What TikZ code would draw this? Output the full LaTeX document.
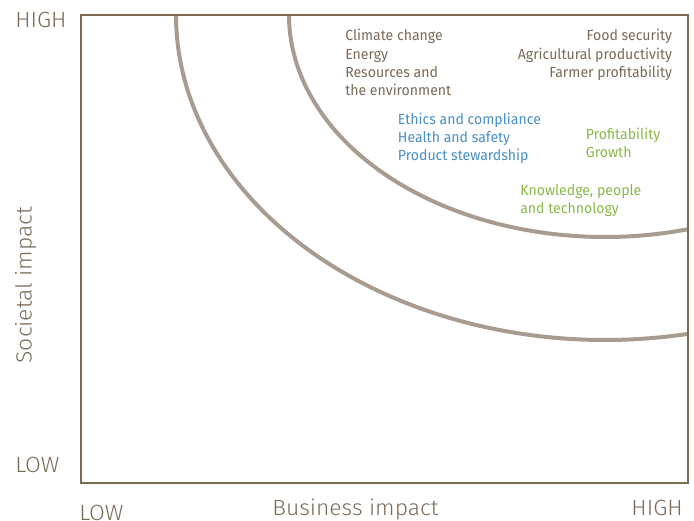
\documentclass[tikz,border=0pt]{standalone}
\usepackage{fontspec}
\setmainfont{Fira Sans}[FakeStretch=0.96]
\newfontfamily\axisfont{Fira Sans Light}[FakeStretch=1.04]
\definecolor{framec}{HTML}{7B6A58}
\definecolor{curvec}{HTML}{A89C90}
\definecolor{txtc}{HTML}{7B6A58}
\definecolor{bluec}{HTML}{4A90C4}
\definecolor{greenc}{HTML}{8AB84A}
\tikzset{
  px/.style={x=0.75pt,y=-0.75pt},
  axislbl/.style={inner sep=0pt,text=txtc,font=\axisfont\fontsize{16.5pt}{20pt}\selectfont},
  small/.style={inner sep=0pt,font=\fontsize{11pt}{13.7pt}\selectfont},
  curve/.style={draw=curvec,line width=3pt},
  frame/.style={draw=framec,line width=1.9pt}
}
\begin{document}
\begin{tikzpicture}[px]
\useasboundingbox (0,0) rectangle (694,521);
% curves
\draw[curve] (289,15) arc[start angle=180,end angle=74.96,x radius=316,y radius=222];
\draw[curve] (176,15) arc[start angle=180,end angle=78.98,x radius=429,y radius=325];
% frame
\draw[frame] (81,15) rectangle (688,483);
% axis labels
\node[axislbl,anchor=base west] (yhigh) at (15,27) {HIGH};
\node[axislbl,anchor=base west] (ylow) at (15,472) {LOW};
\node[axislbl,anchor=base west] (xlow) at (79,520) {LOW};
\node[axislbl,anchor=base] (xlab) at (355.5,515) {Business impact};
\node[axislbl,anchor=base east] (xhigh) at (683,515) {HIGH};
\node[axislbl,anchor=base,rotate=90] (ylab) at (31.7,285) {Societal impact};
% texts (base anchor = last line)
\node[small,text=txtc,anchor=base west,align=left] (env) at (345,95.6)
  {Climate change\\Energy\\Resources and\\the environment};
\node[small,text=txtc,anchor=base east,align=right] (food) at (672.3,77.3)
  {Food security\\Agricultural productivity\\Farmer profitability};
\node[small,text=bluec,anchor=base west,align=left] (ethics) at (397.7,160.9)
  {Ethics and compliance\\Health and safety\\Product stewardship};
\node[small,text=greenc,anchor=base west,align=left] (profit) at (585.7,157.6)
  {Profitability\\Growth};
\node[small,text=greenc,anchor=base west,align=left] (know) at (520,213.3)
  {Knowledge, people\\and technology};
\end{tikzpicture}
\end{document}
